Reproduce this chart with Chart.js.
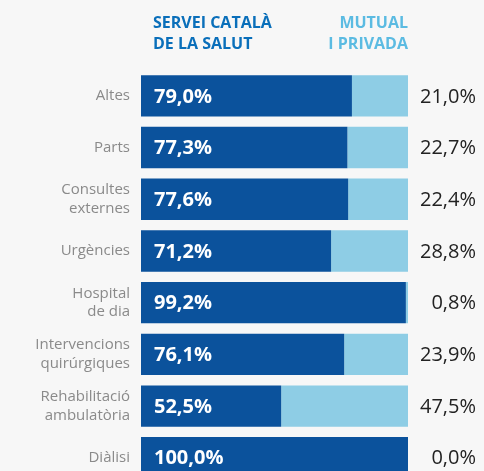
<!DOCTYPE html>
<html>
<head>
<meta charset="utf-8">
<script src="https://cdn.jsdelivr.net/npm/chart.js@4"></script>
<style>
  html, body { margin: 0; padding: 0; background: #f7f7f7; overflow: hidden; }
  canvas { display: block; }
</style>
</head>
<body>
<canvas id="chart" width="484" height="504"></canvas>
<script>
// categories (multi-line labels as arrays)
const categories = [
  'Altes',
  'Parts',
  ['Consultes', 'externes'],
  'Urgències',
  ['Hospital', 'de dia'],
  ['Intervencions', 'quirúrgiques'],
  ['Rehabilitació', 'ambulatòria'],
  'Diàlisi',
];

// percentage share by provider
const publicShare  = [79.0, 77.3, 77.6, 71.2, 99.2, 76.1, 52.5, 100.0];
const privateShare = [21.0, 22.7, 22.4, 28.8, 0.8, 23.9, 47.5, 0.0];

const seriesNames = [['SERVEI CATALÀ', 'DE LA SALUT'], ['MUTUAL', 'I PRIVADA']];

const darkBlue  = '#0b529c';
const lightBlue = '#8ecde5';

const fmt = v => v.toFixed(1).replace('.', ',') + '%';

// headers and value labels
const labelPlugin = {
  id: 'labels',
  afterDatasetsDraw(chart) {
    const { ctx, chartArea } = chart;
    const meta = chart.getDatasetMeta(0);
    ctx.save();
    ctx.textBaseline = 'middle';

    // column headers
    ctx.font = 'bold 16px "Open Sans"';
    ctx.fillStyle = '#0a6fba';
    ctx.textAlign = 'left';
    ctx.fillText(seriesNames[0][0], chartArea.left + 12, 23);
    ctx.fillText(seriesNames[0][1], chartArea.left + 12, 44);
    ctx.fillStyle = '#5bbbe2';
    ctx.textAlign = 'right';
    ctx.fillText(seriesNames[1][0], chartArea.right, 23);
    ctx.fillText(seriesNames[1][1], chartArea.right, 44);

    meta.data.forEach((bar, i) => {
      ctx.font = 'bold 20px "Open Sans"';
      ctx.fillStyle = '#ffffff';
      ctx.textAlign = 'left';
      ctx.fillText(fmt(publicShare[i]), chartArea.left + 13, bar.y + 1);
      ctx.font = '20px "Open Sans"';
      ctx.fillStyle = '#222222';
      ctx.textAlign = 'right';
      ctx.fillText(fmt(privateShare[i]), chart.width - 8, bar.y + 1);
    });
    ctx.restore();
  }
};

new Chart(document.getElementById('chart'), {
  type: 'bar',
  data: {
    labels: categories,
    datasets: [
      { label: 'Servei Català de la Salut', data: publicShare, backgroundColor: darkBlue },
      { label: 'Mutual i privada', data: privateShare, backgroundColor: lightBlue },
    ]
  },
  plugins: [labelPlugin],
  options: {
    indexAxis: 'y',
    responsive: false,
    animation: false,
    layout: { padding: { left: 0, right: 76, top: 70, bottom: 0 } },
    datasets: { bar: { barPercentage: 0.8, categoryPercentage: 1.0 } },
    plugins: {
      legend: { display: false },
      tooltip: { enabled: false }
    },
    scales: {
      x: { stacked: true, min: 0, max: 100, display: false },
      y: {
        stacked: true,
        grid: { display: false, drawTicks: false },
        border: { display: false },
        afterFit(scale) { scale.width = 141; },
        ticks: {
          padding: 11,
          color: '#8a8a8a',
          font: { family: 'Open Sans', size: 15, lineHeight: 1.25 }
        }
      }
    }
  }
});
</script>
</body>
</html>
